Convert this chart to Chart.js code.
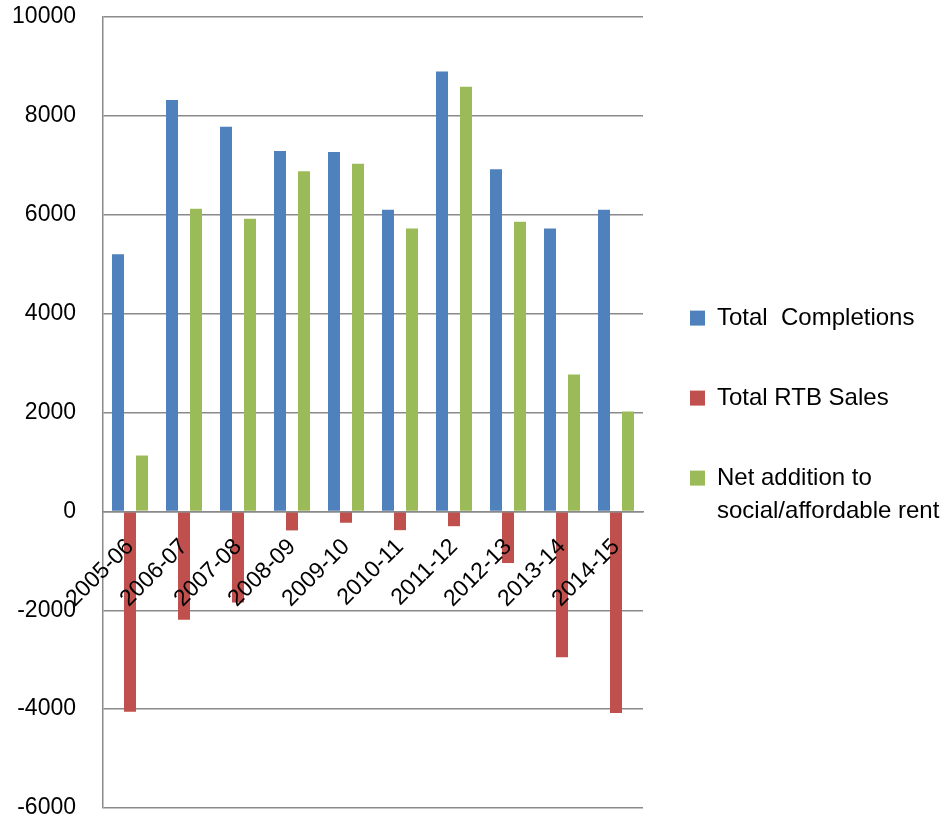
<!DOCTYPE html>
<html>
<head>
<meta charset="utf-8">
<script src="https://cdn.jsdelivr.net/npm/chart.js@4"></script>
<style>
  html, body { margin: 0; padding: 0; background: #fff; }
  #wrap { width: 945px; height: 826px; }
</style>
</head>
<body>
<div id="wrap"><canvas id="housingChart"></canvas></div>
<script>
const years = ['2005-06', '2006-07', '2007-08', '2008-09', '2009-10',
               '2010-11', '2011-12', '2012-13', '2013-14', '2014-15'];
const totalCompletions = [5200, 8320, 7780, 7290, 7270, 6100, 8900, 6920, 5720, 6100];
const totalRtbSales = [-4055, -2190, -1845, -385, -230, -380, -300, -1045, -2950, -4080];
const netAddition = [1130, 6120, 5920, 6880, 7030, 5720, 8590, 5860, 2770, 2020];
const yTicks = [-6000, -4000, -2000, 0, 2000, 4000, 6000, 8000, 10000];

const gridGrey = '#8a8a8a';
const fontFamily = '"Liberation Sans", Arial, sans-serif';

document.addEventListener('DOMContentLoaded', function() {
    new Chart(document.getElementById('housingChart'), {
        type: 'bar',
        data: {
            labels: years,
            datasets: [
                { label: ['Total  Completions'], data: totalCompletions, backgroundColor: '#4F81BD' },
                { label: ['Total RTB Sales'], data: totalRtbSales, backgroundColor: '#C0504D' },
                { label: ['Net addition to', 'social/affordable rent'], data: netAddition, backgroundColor: '#9BBB59' }
            ]
        },
        options: {
            responsive: true,
            maintainAspectRatio: false,
            animation: false,
            layout: { padding: { top: 17, bottom: 18, left: 0, right: 0 } },
            datasets: {
                bar: { categoryPercentage: 0.667, barPercentage: 1.0 }
            },
            scales: {
                x: {
                    position: { y: 0 },
                    grid: { display: false, drawTicks: false },
                    border: { display: true, color: gridGrey, width: 1.5, z: 1 },
                    ticks: {
                        z: 1,
                        autoSkip: false,
                        minRotation: 45,
                        maxRotation: 45,
                        padding: 22,
                        color: '#000',
                        font: { family: fontFamily, size: 23 }
                    }
                },
                y: {
                    min: -6000,
                    max: 10000,
                    afterBuildTicks: function(scale) {
                        scale.ticks = yTicks.map(v => ({ value: v }));
                    },
                    afterFit: function(scale) { scale.width = 103; },
                    grid: { color: gridGrey, lineWidth: 1.5, drawTicks: true, tickLength: 25, tickColor: 'rgba(0,0,0,0)' },
                    border: { display: true, color: gridGrey, width: 1.5 },
                    ticks: {
                        padding: 2,
                        color: '#000',
                        font: { family: fontFamily, size: 23 },
                        callback: function(value) { return String(value); }
                    }
                }
            },
            plugins: {
                legend: {
                    position: 'right',
                    maxWidth: 302,
                    // empty title only nudges the items down a little
                    title: { display: true, text: ' ', font: { size: 1 }, padding: { top: 6, bottom: 6 } },
                    labels: {
                        boxWidth: 15,
                        boxHeight: 15,
                        padding: 47,
                        color: '#000',
                        font: { family: fontFamily, size: 24, lineHeight: 1.375 }
                    }
                },
                tooltip: { enabled: false }
            }
        }
    });
});
</script>
</body>
</html>
